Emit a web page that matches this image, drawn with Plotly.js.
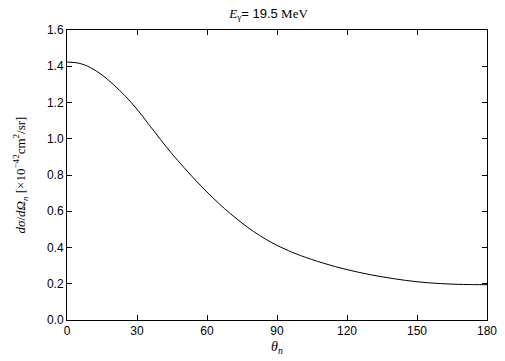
<!DOCTYPE html>
<html>
<head>
<meta charset="utf-8">
<script src="https://cdn.plot.ly/plotly-3.0.1.min.js"></script>
<style>html,body{margin:0;padding:0;background:#fff;}#chart{width:505px;height:361px;}</style>
</head>
<body>
<div id="chart"></div>
<script>
const theta = [0, 5, 10, 15, 20, 25, 30, 35, 40, 45, 50, 55, 60, 65, 70, 75, 80, 85, 90, 95, 100, 110, 120, 130, 140, 150, 160, 170, 180];
const dsigma = [1.423, 1.417, 1.393, 1.352, 1.298, 1.235, 1.163, 1.080, 0.997, 0.917, 0.843, 0.772, 0.706, 0.644, 0.587, 0.535, 0.488, 0.447, 0.412, 0.382, 0.356, 0.313, 0.278, 0.250, 0.228, 0.211, 0.201, 0.196, 0.195];
const xTicks = [0, 30, 60, 90, 120, 150, 180];
const yTicks = [0, 0.2, 0.4, 0.6, 0.8, 1.0, 1.2, 1.4, 1.6];

const serif = '"Liberation Serif", "DejaVu Serif", serif';
const sans = '"Liberation Sans", Arial, sans-serif';

const trace = {
  x: theta, y: dsigma, type: 'scatter', mode: 'lines',
  line: {color: '#000', width: 1, shape: 'spline', smoothing: 1},
  hoverinfo: 'skip'
};

const axisCommon = {
  showgrid: false, zeroline: false, showline: true, linecolor: '#000', linewidth: 1,
  mirror: 'ticks', ticks: 'inside', ticklen: 5, tickcolor: '#000', tickwidth: 1,
  tickfont: {family: sans, size: 12, color: '#000'}
};

const layout = {
  width: 505, height: 361,
  margin: {l: 67, r: 18, t: 30, b: 41},
  paper_bgcolor: '#fff', plot_bgcolor: '#fff',
  showlegend: false,
  title: {
    text: '<i>E</i><sub>γ</sub><span style="font-family:Arimo,Arial,sans-serif;">= 19.5</span> MeV',
    font: {family: serif, size: 13, color: '#000'},
    x: 0.48, xref: 'paper', xanchor: 'center',
    y: 1 - 13/361, yref: 'container', yanchor: 'middle'
  },
  xaxis: Object.assign({}, axisCommon, {
    range: [0, 180], tickvals: xTicks, ticktext: xTicks.map(String),
    title: {text: '<i>θ</i><sub><i>n</i></sub>', font: {family: serif, size: 14, color: '#000'}, standoff: 3}
  }),
  yaxis: Object.assign({}, axisCommon, {
    range: [0, 1.6], tickvals: yTicks, ticktext: yTicks.map(v => v.toFixed(1)),
    title: {text: '<i>dσ</i>/<i>d</i><i>Ω</i><sub><i>n</i></sub> [×10<sup>−42</sup>cm<sup>2</sup>/sr]', font: {family: serif, size: 13, color: '#000'}, standoff: 18}
  })
};

Plotly.newPlot('chart', [trace], layout, {staticPlot: true, displayModeBar: false});
</script>
</body>
</html>
